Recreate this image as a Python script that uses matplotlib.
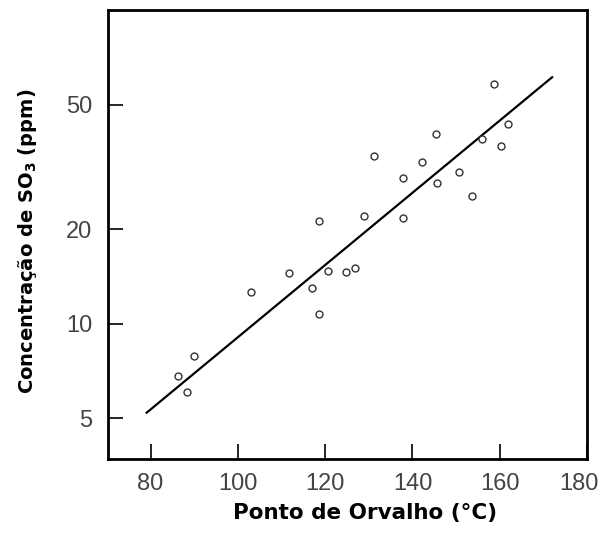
import numpy as np
import matplotlib
matplotlib.use('Agg')
import matplotlib.pyplot as plt
import matplotlib.transforms as mtransforms

plt.rcParams['font.family'] = ['Liberation Sans', 'DejaVu Sans']

# ponto de orvalho (C) x concentracao de SO3 (ppm)
orvalho = [158.6, 161.9, 145.4, 156.0, 160.4, 131.3, 142.1, 150.6, 137.8, 145.6,
           153.7, 118.6, 129.0, 137.8, 111.6, 120.6, 124.8, 126.9, 117.0, 103.0,
           118.6, 89.9, 86.2, 88.3]
so3 = [58.2, 43.3, 40.2, 38.7, 36.8, 34.2, 32.9, 30.5, 29.1, 28.2,
       25.6, 21.2, 22.0, 21.7, 14.5, 14.7, 14.6, 15.1, 13.0, 12.6,
       10.75, 7.9, 6.8, 6.06]

# reta ajustada (extremos)
reta_x = [79.1, 172.0]
reta_y = [5.2, 61.1]

xticks = [80, 100, 120, 140, 160, 180]
yticks = [5, 10, 20, 50]

fig = plt.figure(figsize=(5.99, 5.35), dpi=100)
ax = fig.add_axes([0.180, 0.142, 0.800, 0.839])

ax.plot(reta_x, reta_y, color='black', lw=1.6)
ax.plot(orvalho, so3, 'o', ms=5, mfc='white', mec='#333333', mew=1.0)

ax.set_yscale('log')
ax.set_xlim(70.2, 180)
ax.set_ylim(3.7, 100)
ax.set_xticks(xticks)
ax.set_xticklabels([str(v) for v in xticks])
ax.set_yticks(yticks)
ax.set_yticklabels([str(v) for v in yticks])
ax.minorticks_off()

for s in ax.spines.values():
    s.set_linewidth(2.0)
ax.tick_params(direction='in', length=11, width=1.2, labelsize=17,
               labelcolor='#444444')
ax.tick_params(axis='x', pad=10)
ax.tick_params(axis='y', pad=11)

# o "180" fica encostado na borda, como no original
ultimo = ax.get_xticklabels()[-1]
ultimo.set_transform(ultimo.get_transform() +
                     mtransforms.ScaledTranslation(-8 / 100, 0, fig.dpi_scale_trans))

ax.set_xlabel('Ponto de Orvalho (°C)', fontsize=15.5, fontweight='bold',
              family='DejaVu Sans', labelpad=6)
ax.set_ylabel('Concentração de SO$_\\mathbf{3}$ (ppm)', fontsize=14,
              fontweight='bold', family='DejaVu Sans', labelpad=20)
ax.xaxis.label.set_x(0.537)
ax.yaxis.label.set_y(0.484)

fig.savefig('out.png', dpi=100)
